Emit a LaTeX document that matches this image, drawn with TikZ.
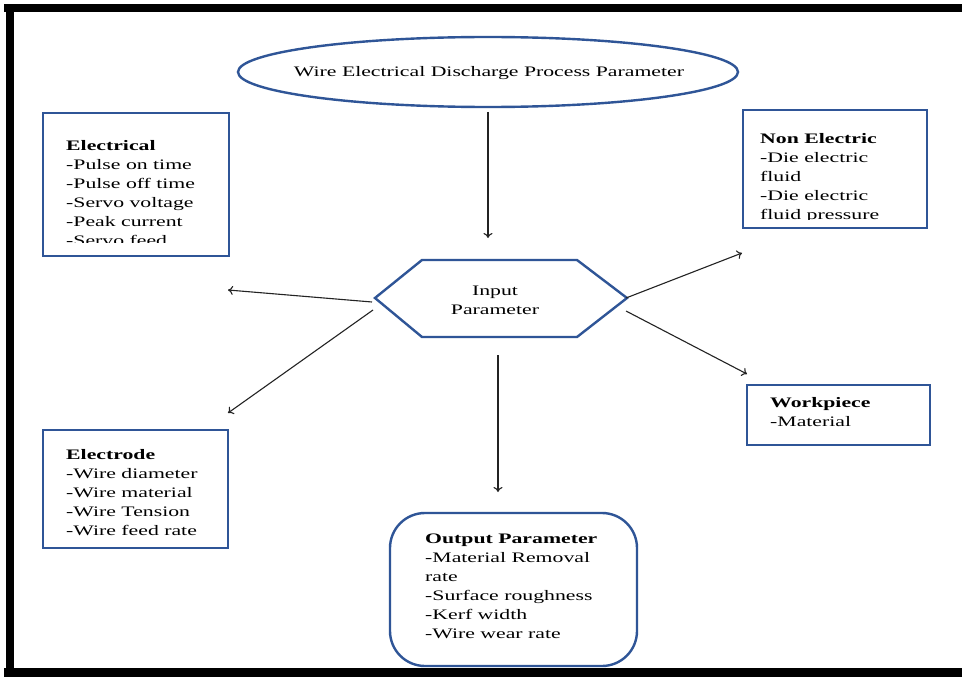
\documentclass[tikz,border=0pt]{standalone}
\usepackage{fontspec}
\setmainfont{Liberation Serif}[FakeStretch=1.5]
\usetikzlibrary{shapes.geometric,arrows.meta}
\definecolor{shapeblue}{RGB}{47,85,151}
\definecolor{arrowgray}{RGB}{35,35,35}
\tikzset{
  box/.style={draw=shapeblue, line width=2.4pt, rectangle, inner sep=0pt},
  txt/.style={anchor=base west, inner sep=0pt, font=\fontsize{14.5}{19}\selectfont},
  ctxt/.style={anchor=base, inner sep=0pt, font=\fontsize{14.5}{19}\selectfont},
  conn/.style={draw=arrowgray, line width=1.1pt, -{To[length=5pt,width=9pt]}},
}
\newcommand{\lst}[1]{\begin{tabular}[t]{@{}l@{}}#1\end{tabular}}
\newcommand{\clst}[1]{\begin{tabular}[t]{@{}c@{}}#1\end{tabular}}
\begin{document}
\begin{tikzpicture}[x=1pt,y=-1pt]
\useasboundingbox (0,0) rectangle (962,677);
\fill[white] (0,0) rectangle (962,677);
% frame
\fill[black] (4,4) rectangle (962,12);
\fill[black] (6,4) rectangle (14,677);
\fill[black] (4,668) rectangle (962,677);

% title ellipse
\node[draw=shapeblue, line width=2.4pt, ellipse, minimum width=500pt, minimum height=70pt, inner sep=0pt] (title) at (488,72) {};
\node[ctxt] (titlet) at (489,77) {Wire Electrical Discharge Process Parameter};

% hexagon
\coordinate (hexW) at (375,298);
\coordinate (hexNW) at (422,260);
\coordinate (hexNE) at (577,260);
\coordinate (hexE) at (627,298);
\coordinate (hexSE) at (577,337);
\coordinate (hexSW) at (422,337);
\draw[shapeblue, line width=2.4pt, line join=miter] (hexW) -- (hexNW) -- (hexNE) -- (hexE) -- (hexSE) -- (hexSW) -- cycle;
\node[ctxt] (inp) at (495,295) {\clst{Input\\Parameter}};

% Electrical
\node[box, minimum width=186pt, minimum height=143pt] (elec) at (136,184.5) {};
\begin{scope}
\clip (45,115) rectangle (227,242);
\node[txt] (elect) at (66,150) {\lst{\textbf{Electrical}\\-Pulse on time\\-Pulse off time\\-Servo voltage\\-Peak current\\-Servo feed}};
\end{scope}

% Non Electric
\node[box, minimum width=184pt, minimum height=118pt] (nonel) at (835,169) {};
\begin{scope}
\clip (745,112) rectangle (925,219.5);
\node[txt] (nonelt) at (760,143) {\lst{\textbf{Non Electric}\\-Die electric\\fluid\\-Die electric\\fluid pressure}};
\end{scope}

% Workpiece
\node[box, minimum width=183pt, minimum height=60pt] (work) at (838.5,415) {};
\node[txt] (workt) at (770,407) {\lst{\textbf{Workpiece}\\-Material}};

% Electrode
\node[box, minimum width=185pt, minimum height=118pt] (electrode) at (135.5,489) {};
\node[txt] (electrodet) at (66,459) {\lst{\textbf{Electrode}\\-Wire diameter\\-Wire material\\-Wire Tension\\-Wire feed rate}};

% Output
\node[box, rounded corners=35pt, minimum width=247pt, minimum height=153pt] (outp) at (513.5,589.5) {};
\node[txt] (outpt) at (425,543) {\lst{\textbf{Output Parameter}\\-Material Removal\\rate\\-Surface roughness\\-Kerf width\\-Wire wear rate}};

% connectors
\coordinate (a0s) at (488,112);
\coordinate (a0e) at (488,238);
\coordinate (a1s) at (372,302);
\coordinate (a1e) at (228,290);
\coordinate (a2s) at (373,310);
\coordinate (a2e) at (228,413);
\coordinate (a3s) at (626,298);
\coordinate (a3e) at (742,253);
\coordinate (a4s) at (626,311);
\coordinate (a4e) at (747,374);
\coordinate (a5s) at (498,355);
\coordinate (a5e) at (498,492);
\draw[conn] (a0s) -- (a0e);
\draw[conn] (a1s) -- (a1e);
\draw[conn] (a2s) -- (a2e);
\draw[conn] (a3s) -- (a3e);
\draw[conn] (a4s) -- (a4e);
\draw[conn] (a5s) -- (a5e);
\end{tikzpicture}
\end{document}
